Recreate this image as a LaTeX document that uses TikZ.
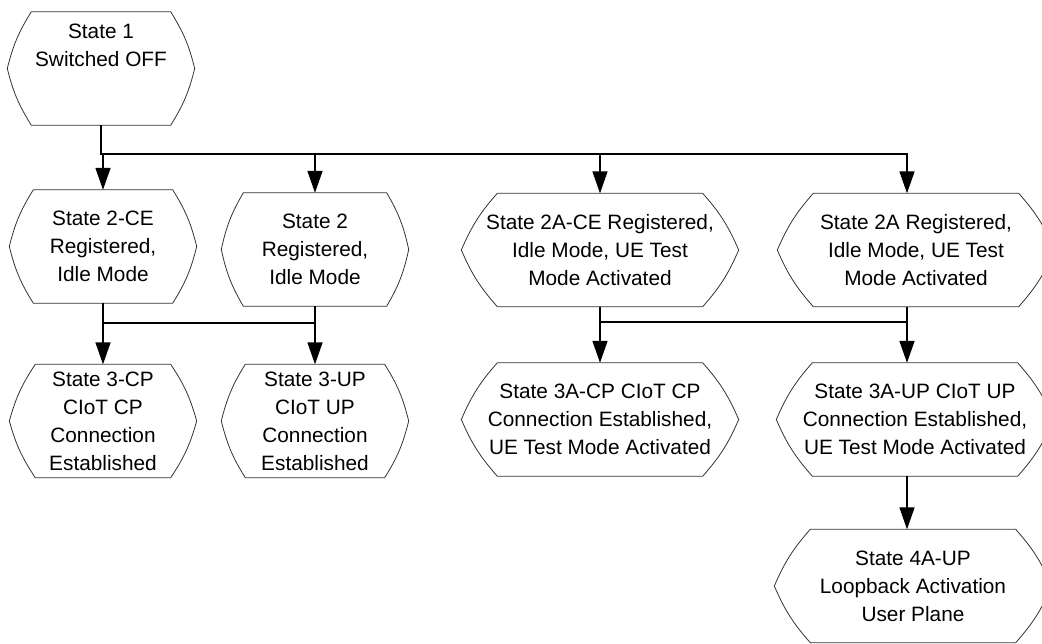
\documentclass[tikz,border=0pt]{standalone}
\usepackage{fontspec}
\setmainfont{Liberation Sans}
\usetikzlibrary{arrows.meta}

\tikzset{
  statetext/.style={align=center, inner sep=0pt, font=\fontsize{20.8}{28}\selectfont},
  state/.style={statetext, minimum width=187pt, minimum height=113pt},
  widestate/.style={state, minimum width=277pt},
  outline/.style={draw=black!80, line width=0.8pt},
  link/.style={line width=1.6pt},
  arrow/.style={link, -{Triangle[length=22pt,width=15pt]}},
}

\begin{document}
\begin{tikzpicture}[x=1pt,y=-1pt]
\useasboundingbox (0,0) rectangle (1042,643);

% states
\node[state] (s1) at (101,68.5) {};
\node[statetext, anchor=north] (s1text) at ([yshift=-12pt]s1.north) {State 1\\Switched OFF};
\node[state] (s2ce) at (103,246.5) {State 2-CE\\Registered,\\Idle Mode};
\node[state] (s2) at (315,249.5) {State 2\\Registered,\\Idle Mode};
\node[state] (s3cp) at (103,421) {State 3-CP\\CIoT CP\\Connection\\Established};
\node[state] (s3up) at (315,421) {State 3-UP\\CIoT UP\\Connection\\Established};
\node[widestate] (s2ace) at (600,250) {State 2A-CE Registered,\\Idle Mode, UE Test\\Mode Activated};
\node[widestate] (s2a) at (916,250) {State 2A Registered,\\Idle Mode, UE Test\\Mode Activated};
\node[widestate] (s3acp) at (600,419.5) {State 3A-CP CIoT CP\\Connection Established,\\UE Test Mode Activated};
\node[widestate] (s3aup) at (915,419.5) {State 3A-UP CIoT UP\\Connection Established,\\UE Test Mode Activated};
\node[widestate] (s4aup) at (913,586) {State 4A-UP\\Loopback Activation\\User Plane};

% outline
\foreach \n/\dx in {s1/24,s2ce/24,s2/22,s3cp/26,s3up/24,s2ace/36,s2a/36,s3acp/36,s3aup/36,s4aup/36}
  \draw[outline] ([xshift=\dx pt]\n.north west) -- ([xshift=-\dx pt]\n.north east)
    to[bend left=9] (\n.east) to[bend left=9] ([xshift=-\dx pt]\n.south east)
    -- ([xshift=\dx pt]\n.south west) to[bend left=9] (\n.west)
    to[bend left=9] ([xshift=\dx pt]\n.north west) -- cycle;

% buses
\coordinate (busA) at (0,154);
\coordinate (busB) at (0,323);
\coordinate (busC) at (0,322);
\coordinate (colA) at (907,0);

% State 1 to registered states
\draw[arrow] (s1.south) -- (s1.south |- busA) -- (colA |- busA) -- (colA |- s2a.north);
\foreach \n in {s2ce,s2,s2ace}
  \draw[arrow] (\n.north |- busA) -- (\n.north);

% registered to connected
\draw[link] (s2ce.south |- busB) -- (s2.south |- busB);
\draw[arrow] (s2ce.south) -- (s3cp.north);
\draw[arrow] (s2.south) -- (s3up.north);

\draw[link] (s2ace.south |- busC) -- (colA |- busC);
\draw[arrow] (s2ace.south) -- (s3acp.north);
\draw[arrow] (colA |- s2a.south) -- (colA |- s3aup.north);

% loopback
\draw[arrow] (colA |- s3aup.south) -- (colA |- s4aup.north);
\end{tikzpicture}
\end{document}
